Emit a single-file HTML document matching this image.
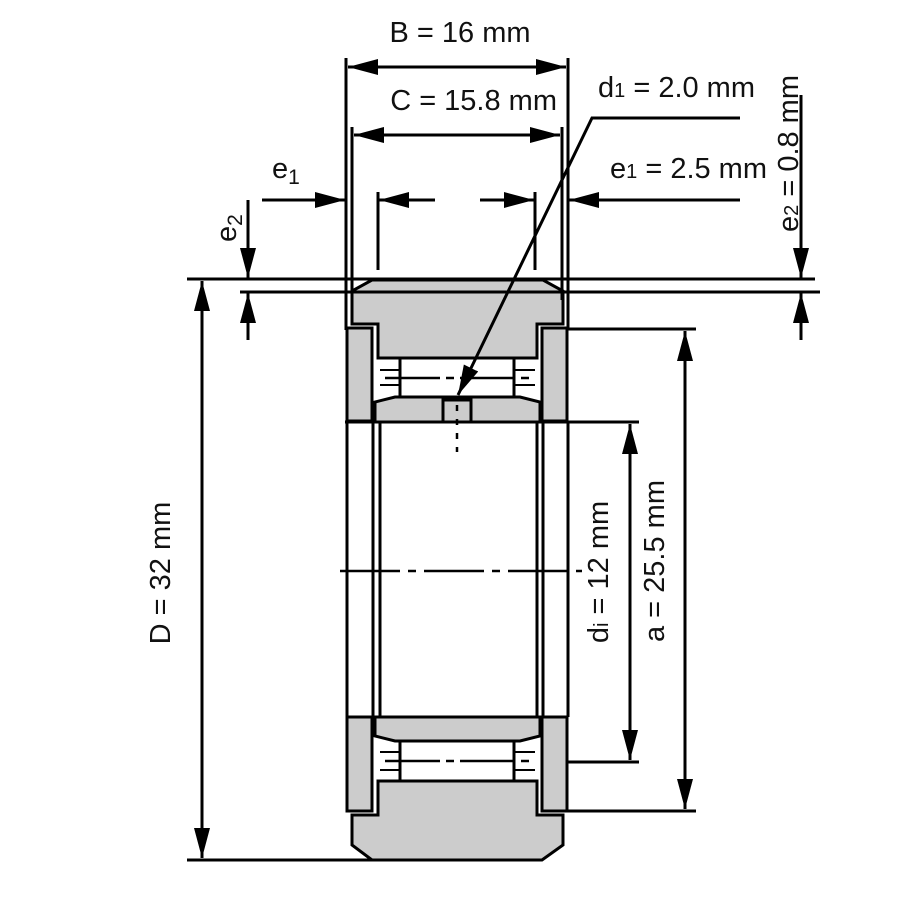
<!DOCTYPE html>
<html><head><meta charset="utf-8"><style>
html,body{margin:0;padding:0;background:#fff;}
svg{display:block;}
text{font-family:"Liberation Sans Narrow","Liberation Sans",sans-serif;font-size:29px;fill:#111;}
</style></head><body>
<svg width="900" height="900" viewBox="0 0 900 900" xmlns="http://www.w3.org/2000/svg">
<defs>
<marker id="ar" markerWidth="30" markerHeight="16" refX="30" refY="8" orient="auto" markerUnits="userSpaceOnUse">
<path d="M0,0 L30,8 L0,16 Z" fill="#000"/>
</marker>
</defs>
<g stroke="#000" stroke-width="3" fill="none">
<g fill="#cccccc">
<path d="M372,280 L543,280 L563,291 L563,324 L537,324 L537,358 L378,358 L378,324 L352,324 L352,291 Z"/>
<path d="M352,815 L378,815 L378,781 L537,781 L537,815 L563,815 L563,845 L542,860 L372,860 L352,845 Z"/>
<rect x="347" y="328" width="25" height="93"/>
<rect x="542" y="328" width="25" height="93"/>
<rect x="347" y="717" width="25" height="94"/>
<rect x="542" y="717" width="25" height="94"/>
<path d="M375,422 L375,402 L395,397 L520,397 L540,402 L540,422 Z"/>
<path d="M375,717 L540,717 L540,736 L520,741 L395,741 L375,736 Z"/>
</g>
<rect x="443" y="400" width="28" height="22" fill="#ccc"/>
<rect x="400" y="358" width="114" height="39" fill="#fff"/>
<rect x="400" y="741" width="114" height="40" fill="#fff"/>
<g stroke-width="2">
<line x1="380" y1="370" x2="400" y2="370"/><line x1="380" y1="385" x2="400" y2="385"/>
<line x1="514" y1="370" x2="535" y2="370"/><line x1="514" y1="385" x2="535" y2="385"/>
<line x1="380" y1="752" x2="400" y2="752"/><line x1="380" y1="770" x2="400" y2="770"/>
<line x1="514" y1="752" x2="535" y2="752"/><line x1="514" y1="770" x2="535" y2="770"/>
</g>
<line x1="385" y1="378" x2="530" y2="378" stroke-dasharray="55,6,8,6" stroke-width="2.5"/>
<line x1="385" y1="761" x2="530" y2="761" stroke-dasharray="55,6,8,6" stroke-width="2.5"/>
<line x1="347" y1="421" x2="347" y2="717"/>
<line x1="373" y1="421" x2="373" y2="717"/>
<line x1="380" y1="421" x2="380" y2="717"/>
<line x1="537" y1="421" x2="537" y2="717"/>
<line x1="543" y1="421" x2="543" y2="717"/>
<line x1="568" y1="421" x2="568" y2="717"/>
<line x1="340" y1="571" x2="582" y2="571" stroke-dasharray="60,8,8,8" stroke-width="2.5"/>
<line x1="457" y1="405" x2="457" y2="452" stroke-dasharray="6,8" stroke-width="2.5"/>
<line x1="346" y1="58" x2="346" y2="330"/>
<line x1="568" y1="58" x2="568" y2="330"/>
<line x1="352" y1="127" x2="352" y2="300"/>
<line x1="562" y1="127" x2="562" y2="300"/>
<line x1="378" y1="192" x2="378" y2="270"/>
<line x1="535" y1="192" x2="535" y2="270"/>
<line x1="187" y1="279" x2="815" y2="279"/>
<line x1="240" y1="292" x2="820" y2="292"/>
<line x1="187" y1="860" x2="372" y2="860"/>
<line x1="567" y1="329" x2="696" y2="329"/>
<line x1="567" y1="811" x2="696" y2="811"/>
<line x1="345" y1="422" x2="639" y2="422"/>
<line x1="567" y1="762" x2="639" y2="762"/>
<line x1="457" y1="67" x2="348" y2="67" marker-end="url(#ar)"/>
<line x1="457" y1="67" x2="566" y2="67" marker-end="url(#ar)"/>
<line x1="457" y1="135" x2="354" y2="135" marker-end="url(#ar)"/>
<line x1="457" y1="135" x2="560" y2="135" marker-end="url(#ar)"/>
<line x1="262" y1="200" x2="345" y2="200" marker-end="url(#ar)"/>
<line x1="435" y1="200" x2="379" y2="200" marker-end="url(#ar)"/>
<line x1="480" y1="200" x2="534" y2="200" marker-end="url(#ar)"/>
<line x1="740" y1="200" x2="569" y2="200" marker-end="url(#ar)"/>
<line x1="248" y1="200" x2="248" y2="278" marker-end="url(#ar)"/>
<line x1="248" y1="340" x2="248" y2="293" marker-end="url(#ar)"/>
<line x1="801" y1="95" x2="801" y2="278" marker-end="url(#ar)"/>
<line x1="801" y1="340" x2="801" y2="293" marker-end="url(#ar)"/>
<line x1="202" y1="570" x2="202" y2="281" marker-end="url(#ar)"/>
<line x1="202" y1="570" x2="202" y2="858" marker-end="url(#ar)"/>
<line x1="685" y1="570" x2="685" y2="331" marker-end="url(#ar)"/>
<line x1="685" y1="570" x2="685" y2="809" marker-end="url(#ar)"/>
<line x1="630" y1="590" x2="630" y2="424" marker-end="url(#ar)"/>
<line x1="630" y1="590" x2="630" y2="760" marker-end="url(#ar)"/>
<polyline points="740,118 592,118 458,395" marker-end="url(#ar)"/>
</g>
<text x="460" y="42" text-anchor="middle">B = 16 mm</text>
<text x="557" y="110" text-anchor="end">C = 15.8 mm</text>
<text x="598" y="97">d<tspan font-size="20">1</tspan> = 2.0 mm</text>
<text x="610" y="178">e<tspan font-size="20">1</tspan> = 2.5 mm</text>
<text x="272" y="178">e<tspan font-size="21" dy="6">1</tspan></text>
<text transform="translate(236,242) rotate(-90)">e<tspan font-size="21" dy="6">2</tspan></text>
<text transform="translate(798,232) rotate(-90)">e<tspan font-size="20">2</tspan> = 0.8 mm</text>
<text transform="translate(170,573) rotate(-90)" text-anchor="middle">D = 32 mm</text>
<text transform="translate(608,572) rotate(-90)" text-anchor="middle">d<tspan font-size="20">i</tspan> = 12 mm</text>
<text transform="translate(664,561) rotate(-90)" text-anchor="middle">a = 25.5 mm</text>
</svg>
</body></html>
